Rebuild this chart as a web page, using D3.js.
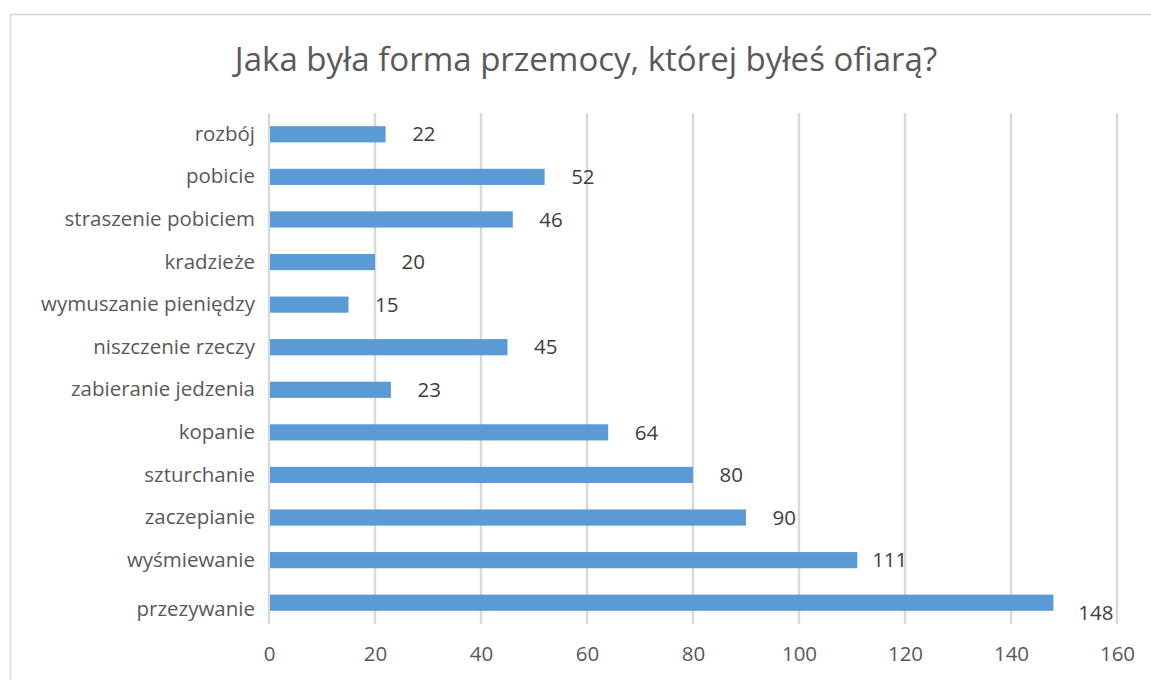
<!DOCTYPE html>
<html>
<head>
<meta charset="utf-8">
<script src="https://cdn.jsdelivr.net/npm/d3@7"></script>
<style>
    body { margin: 0; background: #fff; }
    svg { display: block; font-family: "Open Sans", sans-serif; }
</style>
</head>
<body>
<div id="chart"></div>
<script>
// chart data
const title = "Jaka była forma przemocy, której byłeś ofiarą?";
const categories = ["rozbój", "pobicie", "straszenie pobiciem", "kradzieże", "wymuszanie pieniędzy",
    "niszczenie rzeczy", "zabieranie jedzenia", "kopanie", "szturchanie", "zaczepianie",
    "wyśmiewanie", "przezywanie"];
const values = [22, 52, 46, 20, 15, 45, 23, 64, 80, 90, 111, 148];
const xTicks = [0, 20, 40, 60, 80, 100, 120, 140, 160];

const width = 1151;
const height = 680;

const margin = ({
    top: 113,
    right: 34,
    bottom: 56,
    left: 269
});

let svg = d3.select("#chart")
    .append("svg")
    .attr("width", width)
    .attr("height", height);

// outer frame of the chart area
svg.append("rect")
    .attr("x", 10.5)
    .attr("y", 14.5)
    .attr("width", width + 20)
    .attr("height", height + 20)
    .attr("fill", "none")
    .attr("stroke", "#d9d9d9")
    .attr("stroke-width", 1.5);

svg.append("text")
    .attr("x", 586)
    .attr("y", 71)
    .attr("text-anchor", "middle")
    .attr("fill", "#595959")
    .attr("font-size", "33px")
    .text(title);

const x = d3.scaleLinear()
    .domain([0, 160])
    .range([margin.left, width - margin.right]);

const y = d3.scaleBand()
    .domain(categories)
    .range([margin.top, height - margin.bottom])
    .paddingInner(0.62)
    .paddingOuter(0.31);

const last = categories[categories.length - 1];

// vertical gridlines
svg.append("g")
    .attr("stroke", "#d9d9d9")
    .attr("stroke-width", 2.5)
    .selectAll("line")
    .data(xTicks)
    .join("line")
    .attr("x1", d => x(d))
    .attr("x2", d => x(d))
    .attr("y1", margin.top)
    .attr("y2", height - margin.bottom);

svg.append("g")
    .attr("fill", "#5b9bd5")
    .selectAll("rect")
    .data(values)
    .join("rect")
    .attr("x", x(0) + 1)
    .attr("y", (d, i) => y(categories[i]))
    .attr("width", d => x(d) - x(0) - 1)
    .attr("height", y.bandwidth());

// data labels, Excel style "outside end"
svg.append("g")
    .attr("fill", "#404040")
    .attr("font-size", "20.5px")
    .attr("text-anchor", "end")
    .selectAll("text")
    .data(values)
    .join("text")
    .attr("x", (d, i) => x(d) + (categories[i] === last ? 60 : 50))
    .attr("y", (d, i) => y(categories[i]) + y.bandwidth() / 2)
    .attr("dy", (d, i) => categories[i] === last ? "0.85em" : "0.35em")
    .text(d => d);

const xAxis = g => g
    .attr("transform", `translate(0,${height - margin.bottom})`)
    .call(d3.axisBottom(x).tickValues(xTicks).tickSize(0).tickPadding(22))
    .call(g => g.select(".domain").remove())
    .call(g => g.selectAll("text")
        .attr("fill", "#595959")
        .attr("font-size", "20.5px")
        .attr("font-family", "'Open Sans', sans-serif"));

const yAxis = g => g
    .attr("transform", `translate(${margin.left},0)`)
    .call(d3.axisLeft(y).tickSize(0).tickPadding(14))
    .call(g => g.select(".domain").remove())
    .call(g => g.selectAll("text")
        .attr("fill", "#595959")
        .attr("font-size", "20.5px")
        .attr("font-family", "'Open Sans', sans-serif")
        .attr("dy", d => d === last ? "0.65em" : "0.32em"));

svg.append("g")
    .call(xAxis);

svg.append("g")
    .call(yAxis);
</script>
</body>
</html>
